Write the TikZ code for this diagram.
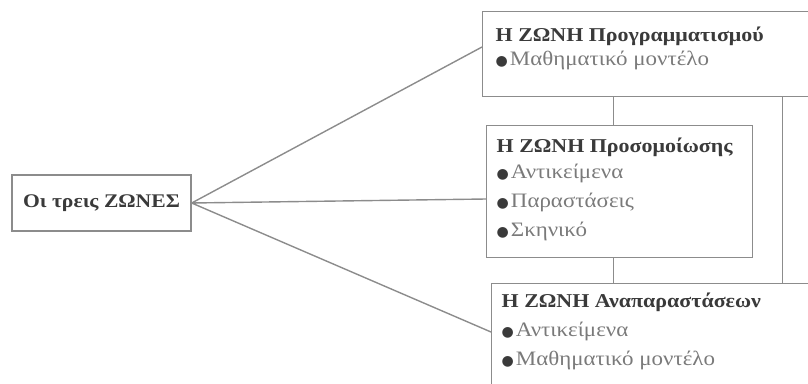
\documentclass[tikz,border=0pt]{standalone}
\usepackage{fontspec}
\setmainfont{Liberation Serif}
\newfontfamily\widegreek[FakeStretch=1.12]{Liberation Serif}
\newfontfamily\bulletfont{DejaVu Sans}
\usetikzlibrary{positioning}

\definecolor{linegray}{HTML}{8C8C8C}
\definecolor{titlegray}{HTML}{3A3A3A}
\definecolor{itemgray}{HTML}{7A7A7A}

% box text: height, width, lines
\newcommand{\zonetext}[3]{\parbox[t][#1][t]{#2}{#3}}
\newcommand{\zonetitle}[2]{\rule{0pt}{#1}\textcolor{titlegray}{\bfseries\fontsize{19.6}{29}\selectfont #2}}
\newcommand{\zoneitem}[1]{\textcolor{titlegray}{\bulletfont\fontsize{14}{29}\selectfont ●}\hspace{2pt}#1}

\tikzset{
  zonebox/.style={draw=linegray,line width=1.4pt,anchor=north west,
    inner xsep=10pt,inner ysep=0pt,text=itemgray,
    font=\widegreek\fontsize{20.5}{29}\selectfont},
  rootbox/.style={draw=linegray,line width=1.4pt,minimum width=179pt,minimum height=56pt,
    text=titlegray,font=\widegreek\bfseries\fontsize{19.3}{22}\selectfont},
  link/.style={draw=linegray,line width=1.4pt}
}

\begin{document}
\begin{tikzpicture}[x=1pt,y=-1pt]
\useasboundingbox (0,0) rectangle (808,383);
\clip (0,0) rectangle (808,383);

\node[rootbox](zones) at (101.5,203){Οι τρεις ΖΩΝΕΣ};
\node[zonebox,inner xsep=13pt](prog) at (482,11)
  {\zonetext{85pt}{340pt}{\zonetitle{30pt}{Η ΖΩΝΗ Προγραμματισμού}\\[-5pt]
   \zoneitem{Μαθηματικό μοντέλο}}};
\node[zonebox](sim) at (486,125)
  {\zonetext{132pt}{246pt}{\zonetitle{27pt}{Η ΖΩΝΗ Προσομοίωσης}\\[-3pt]
   \zoneitem{Αντικείμενα}\\\zoneitem{Παραστάσεις}\\\zoneitem{Σκηνικό}}};
\node[zonebox](anap) at (491,283)
  {\zonetext{120pt}{340pt}{\zonetitle{24pt}{Η ΖΩΝΗ Αναπαραστάσεων}\\
   \zoneitem{Αντικείμενα}\\\zoneitem{Μαθηματικό μοντέλο}}};

% from the three zones to each box
\path[link](zones.east)--([yshift=-36pt]prog.north west)
  (zones.east)--([yshift=-74pt]sim.north west)
  (zones.east)--([yshift=-49pt]anap.north west);
% between the boxes
\path[link]([xshift=-6pt]sim.north)--([xshift=-6pt]sim.north |- prog.south)
  ([xshift=-6pt]sim.south)--([xshift=-6pt]sim.south |- anap.north)
  ([xshift=29pt]sim.east |- prog.south)--([xshift=29pt]sim.east |- anap.north);

\end{tikzpicture}
\end{document}
